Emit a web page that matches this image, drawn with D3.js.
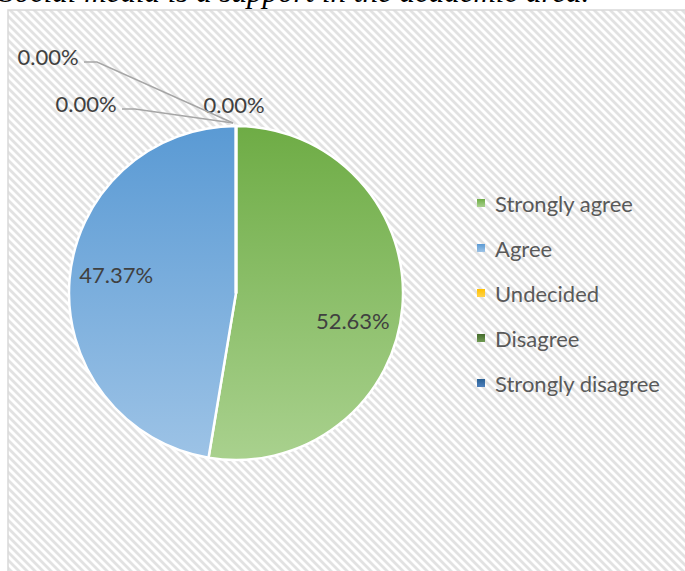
<!DOCTYPE html>
<html><head><meta charset="utf-8">
<script src="https://cdn.jsdelivr.net/npm/d3@7"></script>
<style>html,body{margin:0;padding:0;background:#fff;overflow:hidden}</style>
</head><body>
<svg id="c" width="685" height="571"></svg>
<script>
const title = "Social media is a support in the academic area.";
const categories = ["Strongly agree", "Agree", "Undecided", "Disagree", "Strongly disagree"];
const values = [52.63, 47.37, 0, 0, 0];
const labels = ["52.63%", "47.37%", "0.00%", "0.00%", "0.00%"];
const colorsTop = ["#6eac45", "#5a9ad4", "#ffc000", "#446b2c", "#285f93"];
const colorsBottom = ["#a9d18e", "#9dc3e6", "#ffd34d", "#6f9a52", "#4f81bd"];

const W = 685, H = 571;
const cx = 236, cy = 293, R = 167;
const svg = d3.select("#c");
const defs = svg.append("defs");

// hatch pattern
const pat = defs.append("pattern").attr("id", "hatch").attr("patternUnits", "userSpaceOnUse")
  .attr("width", 8).attr("height", 8);
pat.append("rect").attr("width", 8).attr("height", 8).attr("fill", "#fff");
pat.append("path").attr("d", "M0,0 L8,8 M-4,4 L4,12 M4,-4 L12,4")
  .attr("stroke", "#e2e2e2").attr("stroke-width", 2.8);

// gradients
categories.forEach((c, i) => {
  const g = defs.append("linearGradient").attr("id", "g" + i)
    .attr("gradientUnits", "userSpaceOnUse")
    .attr("x1", 0).attr("y1", -R).attr("x2", 0).attr("y2", R);
  g.append("stop").attr("offset", "0%").attr("stop-color", colorsTop[i]);
  g.append("stop").attr("offset", "100%").attr("stop-color", colorsBottom[i]);
  const gl = defs.append("linearGradient").attr("id", "gl" + i)
    .attr("x1", 0).attr("y1", 0).attr("x2", 0).attr("y2", 1);
  gl.append("stop").attr("offset", "0%").attr("stop-color", colorsTop[i]);
  gl.append("stop").attr("offset", "100%").attr("stop-color", colorsBottom[i]);
});

// title (cut off at the top, as in the reference)
svg.append("text").attr("x", -1).attr("y", 2)
  .attr("font-family", "Liberation Serif, Times New Roman, serif")
  .attr("font-style", "italic").attr("font-size", 31).attr("fill", "#000")
  .text(title);

// chart area
svg.append("rect").attr("x", 8).attr("y", 10).attr("width", W).attr("height", H)
  .attr("fill", "url(#hatch)").attr("stroke", "#d9d9d9").attr("stroke-width", 1.5);

// pie
const pie = d3.pie().sort(null).value(d => d).startAngle(0).endAngle(2 * Math.PI);
const arcs = pie(values);
const arc = d3.arc().innerRadius(0).outerRadius(R);
const g = svg.append("g").attr("transform", `translate(${cx},${cy})`);
g.selectAll("path.s").data(arcs).enter().append("path").attr("class", "s")
  .attr("d", arc)
  .attr("fill", (d, i) => `url(#g${i})`)
  .attr("stroke", "#fff").attr("stroke-width", 2.5).attr("stroke-linejoin", "round");

const labelFont = "Lato, 'Open Sans', sans-serif";
const labelSize = 22;
const labelArc = d3.arc().innerRadius(R * 0.72).outerRadius(R * 0.72);
// label nudges (layout) for the inside labels
const insideNudge = [[-3, 18], [0, -9]];
// callout label placements (layout) for zero slices, relative to pie centre
const calloutPos = [[-2, -189], [-150, -190], [-188, -237]];
const calloutElbow = [null, [-101, -184], [-139, -231]];

arcs.forEach((a, i) => {
  if (a.value > 0) {
    const [x, y] = labelArc.centroid(a);
    g.append("text").attr("x", x + insideNudge[i][0]).attr("y", y + insideNudge[i][1])
      .attr("text-anchor", "middle").attr("dominant-baseline", "central")
      .attr("font-family", labelFont).attr("font-size", labelSize).attr("fill", "#404040")
      .text(labels[i]);
  }
});
// zero slices: callouts
const zeroArcs = arcs.filter(a => a.value === 0);
zeroArcs.forEach((a, k) => {
  const i = arcs.indexOf(a);
  const px = R * Math.sin(a.startAngle) - 3, py = -R * Math.cos(a.startAngle) - 3;
  const [lx, ly] = calloutPos[k];
  if (calloutElbow[k]) {
    const [ex, ey] = calloutElbow[k];
    g.append("polyline")
      .attr("points", `${ex - 13},${ey} ${ex},${ey} ${px},${py}`)
      .attr("fill", "none").attr("stroke", "#a6a6a6").attr("stroke-width", 1.5);
  }
  g.append("text").attr("x", lx).attr("y", ly)
    .attr("text-anchor", "middle").attr("dominant-baseline", "central")
    .attr("font-family", labelFont).attr("font-size", labelSize).attr("fill", "#404040")
    .text(labels[i]);
});

// legend
const legY = d3.scalePoint().domain(categories).range([203, 383]);
const leg = svg.append("g");
categories.forEach((c, i) => {
  const y = legY(c);
  leg.append("rect").attr("x", 477).attr("y", y - 4).attr("width", 8).attr("height", 8)
    .attr("fill", `url(#gl${i})`);
  leg.append("text").attr("x", 495).attr("y", y).attr("dominant-baseline", "central")
    .attr("font-family", labelFont).attr("font-size", labelSize).attr("fill", "#595959")
    .text(c);
});
</script>
</body></html>
